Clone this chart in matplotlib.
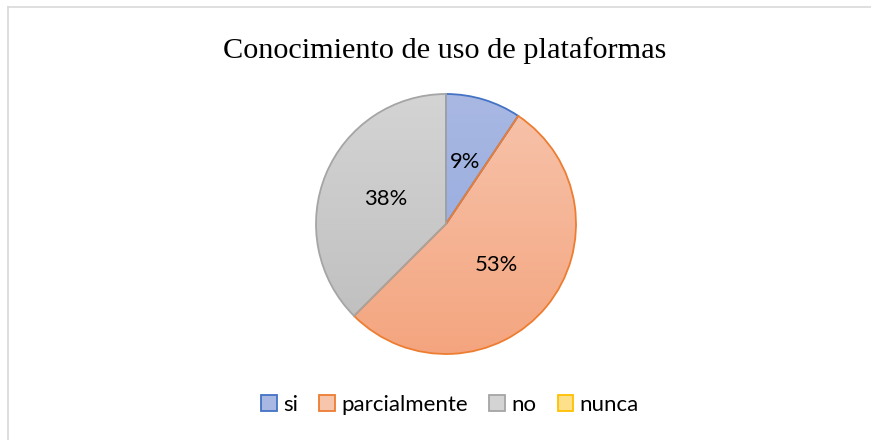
import numpy as np
import matplotlib.pyplot as plt
from matplotlib.patches import Patch
from matplotlib.colors import LinearSegmentedColormap
from matplotlib.lines import Line2D

# data
labels = ['si', 'parcialmente', 'no', 'nunca']
counts = [3, 17, 12, 0]
edge_colors = ['#4472C4', '#ED7D31', '#A5A5A5', '#FFC000']
top_colors = ['#A9B8E3', '#F7C4AC', '#D4D4D4', '#FFE08A']
bottom_colors = ['#8EA6DC', '#F4A57F', '#BDBDBD', '#FFD04F']

W, H = 871, 440
fig = plt.figure(figsize=(W / 100, H / 100), dpi=100)

# chart border (only top and left visible)
fig.add_artist(Line2D([8 / W, 8 / W], [0, 1 - 7 / H], transform=fig.transFigure,
                      color='#D9D9D9', lw=1.2))
fig.add_artist(Line2D([8 / W, 1], [1 - 7 / H, 1 - 7 / H], transform=fig.transFigure,
                      color='#D9D9D9', lw=1.2))

fig.text(445 / W, 1 - 51 / H, 'Conocimiento de uso de plataformas',
         ha='center', va='center', fontsize=21.8, family='Liberation Serif')

cx, cy, r = 446, 224, 130
ax = fig.add_axes([(cx - r) / W, (H - cy - r) / H, 2 * r / W, 2 * r / H])


def pct(p):
    return '' if p < 0.5 else '{:.0f}%'.format(p)


wedges, texts, autotexts = ax.pie(
    counts, startangle=90, counterclock=False, autopct=pct, pctdistance=0.5,
    colors=bottom_colors,
    wedgeprops=dict(linewidth=1.3),
    textprops=dict(fontsize=15.8, family='Lato', color='black'))
ax.set_xlim(-1, 1)
ax.set_ylim(-1, 1)
ax.set_aspect('equal')
ax.axis('off')

for w, c, ec, t, b in zip(wedges, counts, edge_colors, top_colors, bottom_colors):
    if c == 0:
        w.set_visible(False)
        continue
    w.set_edgecolor(ec)
    w.set_facecolor('none')
    w.set_zorder(3)
    cmap = LinearSegmentedColormap.from_list('g', [b, t])
    grad = np.linspace(0, 1, 256).reshape(-1, 1)
    im = ax.imshow(grad, cmap=cmap, extent=(-1, 1, -1, 1), origin='lower',
                   aspect='auto', zorder=2)
    im.set_clip_path(w)
for at in autotexts:
    at.set_zorder(5)

handles = [Patch(facecolor=m, edgecolor=ec, linewidth=1.3)
           for m, ec in zip(top_colors, edge_colors)]
fig.legend(handles, labels, loc='center', bbox_to_anchor=(450 / W, 1 - 405 / H),
           ncol=4, frameon=False, prop=dict(family='Lato', size=16),
           handlelength=0.7, handleheight=0.7, handletextpad=0.3,
           columnspacing=0.95)

fig.savefig('out.png', dpi=100)
